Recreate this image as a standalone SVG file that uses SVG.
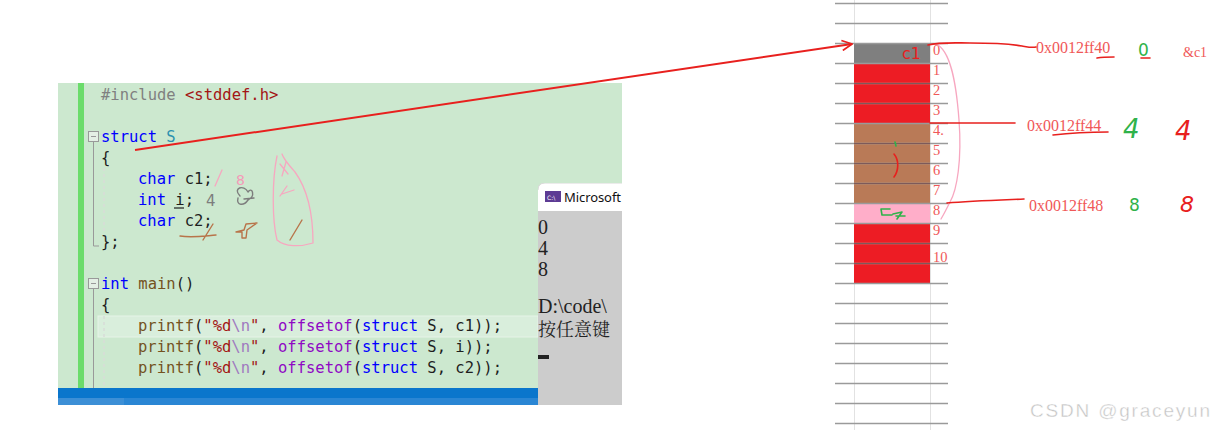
<svg xmlns="http://www.w3.org/2000/svg" width="1214" height="430" viewBox="0 0 1214 430">
<style>
.code{font-family:"DejaVu Sans Mono","Liberation Mono",monospace;font-size:15.5px;fill:#1e1e1e}
.kw{fill:#0000ff}.ty{fill:#2b91af}.pp{fill:#808080}.st{fill:#a31515}.fn{fill:#74531f}.esc{fill:#a07ac0}.mac{fill:#8f08c4}
.num{font-family:"Liberation Serif",serif;font-size:14.5px;fill:#f05858}
.addr{font-family:"Liberation Serif",serif;font-size:16px;fill:#f05858}
.con{font-family:"Liberation Serif",serif;font-size:20px;fill:#222}
.grid{stroke:#9a9a9a;stroke-width:1.3}
.ink{fill:none;stroke-linecap:round;stroke-linejoin:round}
.red{stroke:#e8201e;stroke-width:1.6}
.pink{stroke:#f7a7c0;stroke-width:1.3}
.green{stroke:#2fb24a;stroke-width:1.6}
.hand{font-family:"DejaVu Sans",sans-serif}
</style>
<defs>
<marker id="ah" viewBox="0 0 12 12" refX="11" refY="6" markerWidth="12" markerHeight="12" markerUnits="userSpaceOnUse" orient="auto">
<path d="M1,1 L11,6 L1,11" fill="none" stroke="#e8201e" stroke-width="1.8"/>
</marker>
<clipPath id="conclip"><rect x="538" y="183" width="84" height="222"/></clipPath>
</defs>
<rect width="1214" height="430" fill="#ffffff"/>

<g id="code-editor">
<rect x="58" y="83" width="564" height="305" fill="#cce8cf"/>
<rect x="78" y="83" width="6" height="305" fill="#6bdc6b"/>
<rect x="98" y="316" width="440" height="21" fill="#d9eedc" stroke="#e6f3e8" stroke-width="1"/>
<rect x="58" y="388" width="564" height="17" fill="#0a76cc"/>
<rect x="58" y="398" width="66" height="7" fill="#3c8fd6"/>
<rect x="124" y="398" width="498" height="7" fill="#2a86d4"/>
<g fill="none" stroke="#999" stroke-width="1">
<rect x="88.5" y="131.5" width="10" height="10" fill="#e4efe5"/>
<path d="M91 136.5 H96"/>
<path d="M93.5 142 V246 H99"/>
<rect x="88.5" y="278.5" width="10" height="10" fill="#e4efe5"/>
<path d="M91 283.5 H96"/>
<path d="M93.5 289 V388"/>
</g>
<g stroke="#d8dcd8" stroke-width="1.5" stroke-dasharray="3 3">
<path d="M104 168 V234"/>
<path d="M104 316 V388"/>
</g>
<text class="code" xml:space="preserve"><tspan x="101" y="100" class="pp">#include </tspan><tspan class="st">&lt;stddef.h&gt;</tspan></text>
<text class="code" xml:space="preserve"><tspan x="101" y="142" class="kw">struct</tspan> <tspan class="ty">S</tspan></text>
<text class="code" x="101" y="163">{</text>
<text class="code" xml:space="preserve"><tspan x="138" y="184" class="kw">char</tspan> c1;</text>
<text class="code" xml:space="preserve"><tspan x="138" y="205" class="kw">int</tspan> i;</text>
<path d="M174 208 H184" stroke="#1e1e1e" stroke-width="1.2"/>
<text class="code" xml:space="preserve"><tspan x="138" y="226" class="kw">char</tspan> c2;</text>
<text class="code" x="101" y="247">};</text>
<text class="code" xml:space="preserve"><tspan x="101" y="289" class="kw">int</tspan> <tspan class="fn">main</tspan>()</text>
<text class="code" x="101" y="310">{</text>
<text class="code" xml:space="preserve"><tspan x="138" y="331" class="fn">printf</tspan>(<tspan class="st">"%d</tspan><tspan class="esc">\n</tspan><tspan class="st">"</tspan>, <tspan class="mac">offsetof</tspan>(<tspan class="kw">struct</tspan> S, c1));</text>
<text class="code" xml:space="preserve"><tspan x="138" y="352" class="fn">printf</tspan>(<tspan class="st">"%d</tspan><tspan class="esc">\n</tspan><tspan class="st">"</tspan>, <tspan class="mac">offsetof</tspan>(<tspan class="kw">struct</tspan> S, i));</text>
<text class="code" xml:space="preserve"><tspan x="138" y="373" class="fn">printf</tspan>(<tspan class="st">"%d</tspan><tspan class="esc">\n</tspan><tspan class="st">"</tspan>, <tspan class="mac">offsetof</tspan>(<tspan class="kw">struct</tspan> S, c2));</text>
</g>

<g id="code-annotations">
<path class="ink pink" d="M222 170 L215 186"/>
<text x="236" y="185" class="hand" font-size="14" fill="#f59ab8">8</text>
<text x="206" y="206" class="hand" font-size="15" fill="#7d7d7d">4</text>
<path class="ink" stroke="#7d7d7d" stroke-width="1.4" d="M240 196 C232 188 244 184 248 192 C252 186 256 196 248 200 C244 206 236 206 238 198 M244 199 L254 198"/>
<path class="ink" stroke="#b8744a" stroke-width="1.4" d="M180 236 C192 238 204 236 216 235 M213 224 L203 240"/>
<path class="ink" stroke="#b8744a" stroke-width="1.4" d="M236 232 L244 230 L246 224 L257 223 L247 230 L246 238 L242 238 L242 232 Z"/>
<path class="ink pink" d="M277 156 C272 180 272 220 277 240 C285 247 300 247 313 243 C313 215 308 190 295 172 C289 165 284 160 282 154"/>
<path class="ink pink" d="M280 164 L288 174 M286 162 L282 176"/>
<path class="ink pink" d="M280 196 L287 186 M282 194 L294 190"/>
<path class="ink" stroke="#b8744a" stroke-width="1.4" d="M302 220 L290 240"/>
</g>

<g id="console">
<g clip-path="url(#conclip)">
<path d="M538 405 V190 Q538 183 545 183 H622 V405 Z" fill="#cccccc"/>
<path d="M538 211 V190 Q538 183 545 183 H622 V211 Z" fill="#ffffff"/>
<path d="M538 190 Q538 183 545 183 H622" fill="none" stroke="#d8d8d8"/>
<rect x="545" y="191" width="16" height="11" fill="#5d3b94"/>
<text x="547" y="200" font-family="DejaVu Sans,sans-serif" font-size="6" fill="#ffffff">C:\</text>
<text x="564" y="202" font-family="Noto Sans,sans-serif" font-size="13" textLength="57" fill="#111">Microsoft</text>
<text class="con" x="538" y="234">0</text>
<text class="con" x="538" y="255">4</text>
<text class="con" x="538" y="276">8</text>
<text class="con" x="538" y="313" font-size="19">D:\code\</text>
<text x="538" y="336" font-family="Noto Serif CJK SC,Noto Sans CJK SC,serif" font-size="18" fill="#222">按任意键</text>
<rect x="538" y="355" width="11" height="4" fill="#222"/>
</g>
</g>

<g id="memory-grid">
<path d="M854.5 0 V430 M930.5 0 V430" stroke="#e2e2e2" stroke-width="1"/>
<rect x="854" y="43" width="76" height="20" fill="#7f7f7f"/>
<rect x="854" y="63" width="76" height="60" fill="#ed1c24"/>
<rect x="854" y="123" width="76" height="80" fill="#b97a57"/>
<rect x="854" y="203" width="76" height="20" fill="#ffaec9"/>
<rect x="854" y="223" width="76" height="60" fill="#ed1c24"/>
<g class="grid">
<path d="M835 3.5H948M835 23.5H948M835 43.5H948M835 63.5H948M835 83.5H948M835 103.5H948M835 123.5H948M835 143.5H948M835 163.5H948M835 183.5H948M835 203.5H948M835 223.5H948M835 243.5H948M835 263.5H948M835 283.5H948M835 303.5H948M835 323.5H948M835 343.5H948M835 363.5H948M835 383.5H948M835 403.5H948M835 423.5H948"/>
</g>
<path d="M854 83.5H930M854 103.5H930M854 143.5H930M854 163.5H930M854 183.5H930M854 243.5H930M854 263.5H930" stroke="#6a3030" stroke-width="1" opacity="0.6"/>
<g class="num">
<text x="933" y="55">0</text>
<text x="933" y="75">1</text>
<text x="933" y="95">2</text>
<text x="933" y="115">3</text>
<text x="933" y="135">4.</text>
<text x="933" y="155">5</text>
<text x="933" y="175">6</text>
<text x="933" y="195">7</text>
<text x="933" y="215">8</text>
<text x="933" y="235">9</text>
<text x="933" y="262">10</text>
</g>
</g>

<g id="memory-annotations">
<text x="902" y="59" class="hand" font-size="16" fill="#e8201e">c1</text>
<path class="ink green" d="M895 142 L896 146"/>
<path class="ink red" d="M894 154 C899 160 899 170 894 177"/>
<path class="ink green" d="M890 209 L881 209 L882 215 L892 215 M893 214 L902 212 L897 219 M896 216 L905 216"/>
<path class="ink pink" d="M936 44 C950 50 956 80 959 120 C962 160 957 190 950 202 C946 210 944 214 941 219"/>
</g>

<g id="addresses">
<text class="addr" x="1036" y="53">0x0012ff40</text>
<path class="ink red" d="M1097 58 C1103 57 1110 57 1114 57"/>
<text class="addr" x="1027" y="131">0x0012ff44</text>
<path class="ink red" d="M1053 135 C1070 133 1090 132 1108 132"/>
<text class="addr" x="1029" y="211">0x0012ff48</text>
<text x="1183" y="57" font-family="Liberation Serif,serif" font-size="14" fill="#f05858">&amp;c1</text>
<text x="1138" y="56" class="hand" font-size="17" fill="#2fb24a">0</text>
<path class="ink red" d="M1141 58 H1150"/>
<text x="1123" y="138" class="hand" font-size="26" fill="#2fb24a" font-style="italic">4</text>
<text x="1175" y="140" class="hand" font-size="26" fill="#e8201e" font-style="italic">4</text>
<text x="1129" y="211" class="hand" font-size="17" fill="#2fb24a">8</text>
<text x="1180" y="212" class="hand" font-size="22" fill="#e8201e" font-style="italic">8</text>
</g>

<g id="connectors" fill="none">
<path d="M135 150 L852 44" stroke="#e8201e" stroke-width="2" marker-end="url(#ah)"/>
<path class="ink red" d="M928 45 C940 42 955 43 970 43 C990 43 1010 44 1022 46 C1028 47 1032 48 1036 47"/>
<path class="ink red" d="M930 123 H1015"/>
<path class="ink red" d="M947 203 C970 201 1000 200 1024 199"/>
</g>

<text x="1030" y="417" font-family="Liberation Sans,Arial,sans-serif" font-size="19" textLength="180" fill="#c4c4c4" stroke="#ffffff" stroke-width="0.4">CSDN @graceyun</text>
</svg>
